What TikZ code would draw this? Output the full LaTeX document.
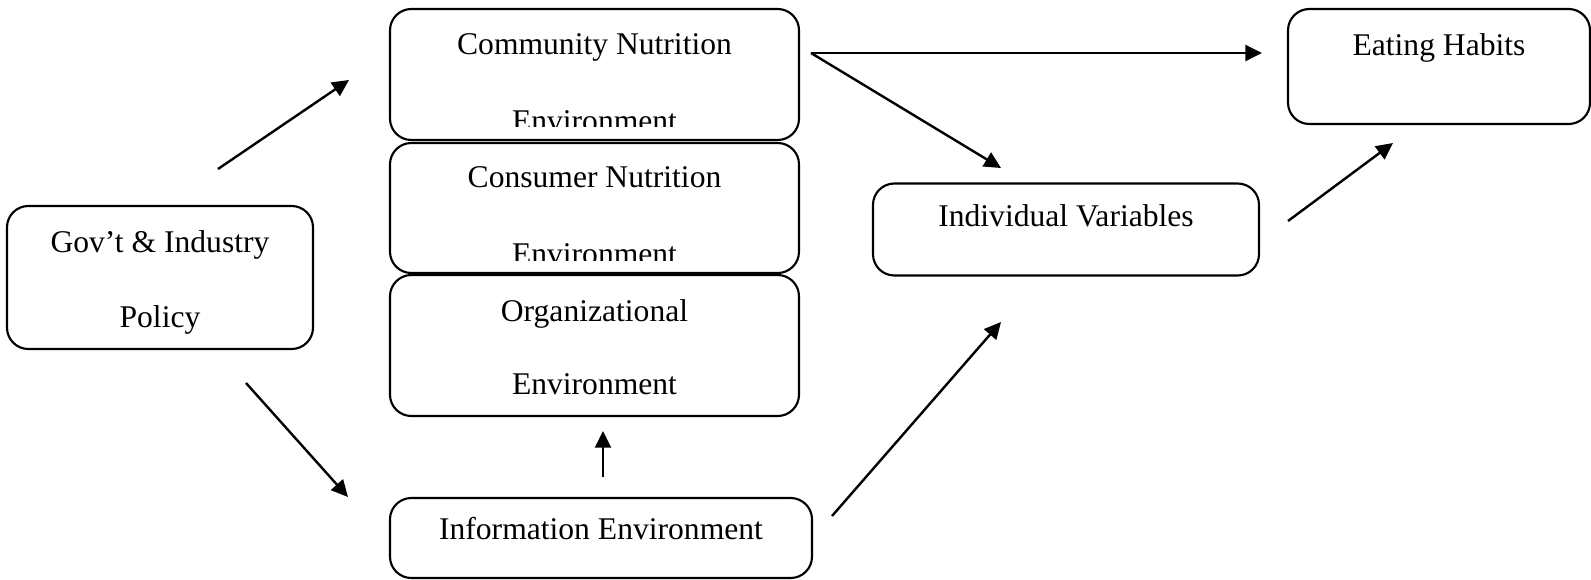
\documentclass[tikz,border=0pt]{standalone}
\usepackage{fontspec}
\setmainfont{Liberation Serif}
\usetikzlibrary{positioning,arrows.meta}

\tikzset{
  box/.style={draw,rounded corners=16pt,line width=1.6pt,fill=white,inner sep=0pt},
  txt/.style={anchor=base,inner sep=0pt,font=\fontsize{23.7}{28}\selectfont},
  arr/.style={-{Triangle[length=12.5pt,width=12pt]},line width=1.8pt}
}

\begin{document}
\begin{tikzpicture}[x=0.75pt,y=-0.75pt]
\useasboundingbox (0,0) rectangle (1591,579);

% boxes
\node[box,minimum width=229.5pt,minimum height=107.25pt] (gov) at (160,277.5) {};
\node[box,minimum width=306.75pt,minimum height=98.25pt] (comm) at (594.5,74.5) {};
\node[box,minimum width=306.75pt,minimum height=97.5pt] (cons) at (594.5,208) {};
\node[box,minimum width=306.75pt,minimum height=105.75pt] (org) at (594.5,345.5) {};
\node[box,minimum width=316.5pt,minimum height=60pt] (info) at (601,538) {};
\node[box,minimum width=289.5pt,minimum height=69pt] (indiv) at (1066,229.5) {};
\node[box,minimum width=226.5pt,minimum height=86.25pt] (eat) at (1439,66.5) {};

% texts
\node[txt] (gov1) at (160,252) {Gov’t \& Industry};
\node[txt] (gov2) at (160,327) {Policy};
\node[txt] (comm1) at (594.5,54.3) {Community Nutrition};
\begin{scope}
\clip (390,9) rectangle (799,126.7);
\node[txt] (comm2) at (594.5,131) {Environment};
\end{scope}
\node[txt] (cons1) at (594.5,187) {Consumer Nutrition};
\begin{scope}
\clip (390,143) rectangle (799,260);
\node[txt] (cons2) at (594.5,264) {Environment};
\end{scope}
\node[txt] (org1) at (594.5,321) {Organizational};
\node[txt] (org2) at (594.5,394) {Environment};
\node[txt] (info1) at (601,539) {Information Environment};
\node[txt] (indiv1) at (1066,226) {Individual Variables};
\node[txt] (eat1) at (1439,55) {Eating Habits};

% arrow ends
\coordinate (govup) at (218,169);
\coordinate (commin) at (349,80);
\coordinate (govdn) at (246,383);
\coordinate (infoin) at (348,497);
\coordinate (infoup) at (603,477);
\coordinate (orgin) at (603,431);
\coordinate (commout) at (811,53);
\coordinate (eatin) at (1262,53);
\coordinate (indivtop) at (1001,168);
\coordinate (infoout) at (832,516);
\coordinate (indivbot) at (1001,322);
\coordinate (indivout) at (1288,221);
\coordinate (eatbot) at (1393,143);

\draw[arr] (govup) -- (commin);
\draw[arr] (govdn) -- (infoin);
\draw[arr] (infoup) -- (orgin);
\draw[arr] (commout) -- (eatin);
\draw[arr] (commout) -- (indivtop);
\draw[arr] (infoout) -- (indivbot);
\draw[arr] (indivout) -- (eatbot);

\end{tikzpicture}
\end{document}
